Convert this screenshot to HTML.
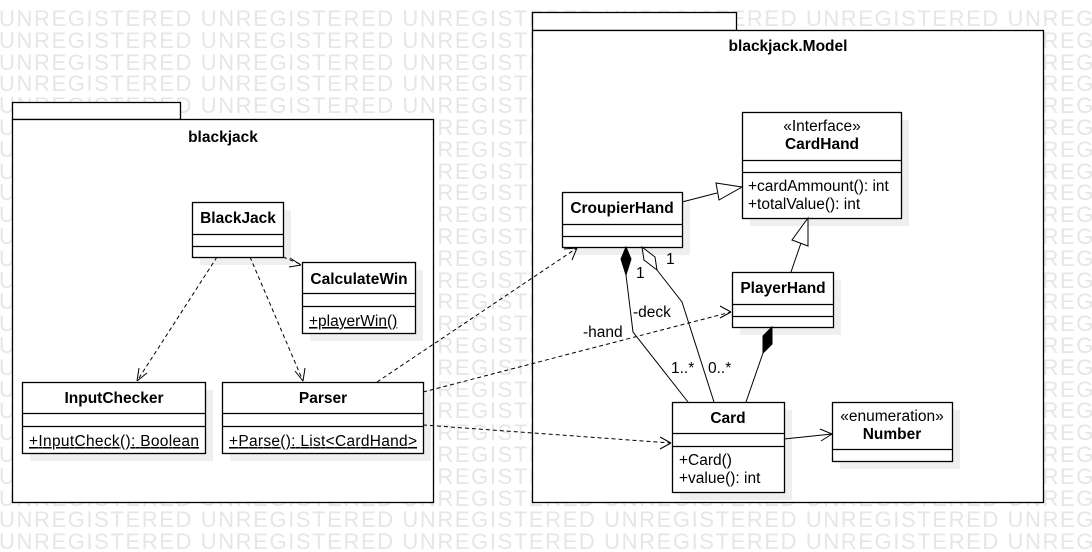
<!DOCTYPE html>
<html><head><meta charset="utf-8"><style>
html,body{margin:0;padding:0;width:1092px;height:552px;overflow:hidden;}
body{background:#fff;position:relative;font-family:"Liberation Sans",sans-serif;}
#wmwrap{position:absolute;left:0;top:0;width:1092px;height:552px;overflow:hidden;}
#wm{position:absolute;left:-1px;top:8px;color:#e6e6e6;font-size:22px;line-height:21.8px;white-space:nowrap;letter-spacing:1.6px}
svg{position:absolute;left:0;top:0}
</style></head><body>
<div id="wmwrap"><div id="wm">
UNREGISTERED UNREGISTERED UNREGISTERED UNREGISTERED UNREGISTERED UNREGISTERED<br>UNREGISTERED UNREGISTERED UNREGISTERED UNREGISTERED UNREGISTERED UNREGISTERED<br>UNREGISTERED UNREGISTERED UNREGISTERED UNREGISTERED UNREGISTERED UNREGISTERED<br>UNREGISTERED UNREGISTERED UNREGISTERED UNREGISTERED UNREGISTERED UNREGISTERED<br>UNREGISTERED UNREGISTERED UNREGISTERED UNREGISTERED UNREGISTERED UNREGISTERED<br>UNREGISTERED UNREGISTERED UNREGISTERED UNREGISTERED UNREGISTERED UNREGISTERED<br>UNREGISTERED UNREGISTERED UNREGISTERED UNREGISTERED UNREGISTERED UNREGISTERED<br>UNREGISTERED UNREGISTERED UNREGISTERED UNREGISTERED UNREGISTERED UNREGISTERED<br>UNREGISTERED UNREGISTERED UNREGISTERED UNREGISTERED UNREGISTERED UNREGISTERED<br>UNREGISTERED UNREGISTERED UNREGISTERED UNREGISTERED UNREGISTERED UNREGISTERED<br>UNREGISTERED UNREGISTERED UNREGISTERED UNREGISTERED UNREGISTERED UNREGISTERED<br>UNREGISTERED UNREGISTERED UNREGISTERED UNREGISTERED UNREGISTERED UNREGISTERED<br>UNREGISTERED UNREGISTERED UNREGISTERED UNREGISTERED UNREGISTERED UNREGISTERED<br>UNREGISTERED UNREGISTERED UNREGISTERED UNREGISTERED UNREGISTERED UNREGISTERED<br>UNREGISTERED UNREGISTERED UNREGISTERED UNREGISTERED UNREGISTERED UNREGISTERED<br>UNREGISTERED UNREGISTERED UNREGISTERED UNREGISTERED UNREGISTERED UNREGISTERED<br>UNREGISTERED UNREGISTERED UNREGISTERED UNREGISTERED UNREGISTERED UNREGISTERED<br>UNREGISTERED UNREGISTERED UNREGISTERED UNREGISTERED UNREGISTERED UNREGISTERED<br>UNREGISTERED UNREGISTERED UNREGISTERED UNREGISTERED UNREGISTERED UNREGISTERED<br>UNREGISTERED UNREGISTERED UNREGISTERED UNREGISTERED UNREGISTERED UNREGISTERED<br>UNREGISTERED UNREGISTERED UNREGISTERED UNREGISTERED UNREGISTERED UNREGISTERED<br>UNREGISTERED UNREGISTERED UNREGISTERED UNREGISTERED UNREGISTERED UNREGISTERED<br>UNREGISTERED UNREGISTERED UNREGISTERED UNREGISTERED UNREGISTERED UNREGISTERED<br>UNREGISTERED UNREGISTERED UNREGISTERED UNREGISTERED UNREGISTERED UNREGISTERED<br>UNREGISTERED UNREGISTERED UNREGISTERED UNREGISTERED UNREGISTERED UNREGISTERED
</div></div>
<svg width="1092" height="552" viewBox="0 0 1092 552" font-family="Liberation Sans, sans-serif" font-size="15.5" fill="none" stroke="#000">
<g stroke-width="1.3">
<rect x="12.5" y="102.5" width="168" height="17" fill="#fff"/>
<rect x="12.5" y="119.5" width="421" height="383" fill="#fff"/>
<rect x="532.5" y="12.5" width="204" height="18" fill="#fff"/>
<rect x="532.5" y="30.5" width="511" height="472" fill="#fff"/>
</g>
<g fill="#000" stroke="none" font-weight="bold" text-anchor="middle">
<text x="223" y="142">blackjack</text>
<text x="788" y="51">blackjack.Model</text>
</g>
<g fill="#efefef" stroke="none">
<rect x="200" y="210" width="91" height="55"/>
<rect x="310" y="270" width="113" height="71"/>
<rect x="30" y="390" width="183" height="71"/>
<rect x="230" y="390" width="201" height="71"/>
<rect x="750" y="120" width="159" height="106"/>
<rect x="570" y="200" width="120" height="55"/>
<rect x="740" y="280" width="101" height="55"/>
<rect x="680" y="410" width="112" height="90"/>
<rect x="840" y="410" width="120" height="59"/>
</g>
<g stroke-width="1.3" fill="#fff">
<rect x="192.5" y="202.5" width="91" height="55"/><path d="M192.5 234.5h91M192.5 246.5h91"/>
<rect x="302.5" y="262.5" width="113" height="71"/><path d="M302.5 293.5h113M302.5 306.5h113"/>
<rect x="22.5" y="382.5" width="183" height="71"/><path d="M22.5 413.5h183M22.5 426.5h183"/>
<rect x="222.5" y="382.5" width="201" height="71"/><path d="M222.5 413.5h201M222.5 426.5h201"/>
<rect x="742.5" y="112.5" width="159" height="106"/><path d="M742.5 160.5h159M742.5 172.5h159"/>
<rect x="562.5" y="192.5" width="120" height="55"/><path d="M562.5 224.5h120M562.5 236.5h120"/>
<rect x="732.5" y="272.5" width="101" height="55"/><path d="M732.5 304.5h101M732.5 316.5h101"/>
<rect x="672.5" y="402.5" width="112" height="90"/><path d="M672.5 433.5h112M672.5 446.5h112"/>
<rect x="832.5" y="402.5" width="120" height="59"/><path d="M832.5 449.5h120"/>
</g>
<g fill="#000" stroke="none">
<g font-weight="bold" text-anchor="middle">
<text x="238" y="223">BlackJack</text>
<text x="359" y="284">CalculateWin</text>
<text x="114" y="403">InputChecker</text>
<text x="323" y="403">Parser</text>
<text x="822" y="149">CardHand</text>
<text x="622" y="213">CroupierHand</text>
<text x="783" y="293">PlayerHand</text>
<text x="728" y="423">Card</text>
<text x="892" y="439">Number</text>
</g>
<g text-anchor="middle">
<text x="822" y="131">«Interface»</text>
<text x="892" y="421">«enumeration»</text>
</g>
<text x="309" y="326" text-decoration="underline">+playerWin()</text>
<text x="29" y="446" text-decoration="underline" textLength="170">+InputCheck(): Boolean</text>
<text x="229" y="446" text-decoration="underline" textLength="188">+Parse(): List&lt;CardHand&gt;</text>
<text x="748" y="191">+cardAmmount(): int</text>
<text x="748" y="209">+totalValue(): int</text>
<text x="679" y="465">+Card()</text>
<text x="679" y="483">+value(): int</text>
<text x="636" y="278">1</text>
<text x="666" y="264">1</text>
<text x="633" y="317">-deck</text>
<text x="583" y="337">-hand</text>
<text x="671" y="373">1..*</text>
<text x="708" y="373">0..*</text>
</g>
<g stroke-width="1" stroke-dasharray="4,3">
<path d="M217 257L137 381M250 257L303 381M283 257L300 264M377 382L577 248M423 392L731 312M423 425L671 443"/>
</g>
<g stroke-width="1">
<path d="M137 381l2-13M137 381l10-8"/>
<path d="M303 381l-8-10M303 381l2-13"/>
<path d="M301 265l-11-7M301 265l-12 2"/>
<path d="M577 248l-13 1M577 248l-5 12"/>
<path d="M731 312l-11-6M731 312l-11 6"/>
<path d="M671 443l-11-6M671 443l-11 6"/>
<path d="M682 202L717 193"/><path d="M742 187l-26-4 3 17z" fill="#fff"/>
<path d="M791 272L801 243"/><path d="M808 218l-16 22 16 6z" fill="#fff"/>
<path d="M626 275L633 332L688 402"/><path d="M626 247l-5 12 5 16 5-16z" fill="#000"/>
<path d="M657 270L682 302L714 402"/><path d="M642 247l2 13 13 10-2-13z" fill="#fff"/>
<path d="M763 353L746 402"/><path d="M772 327l-9 9 0 17 9-9z" fill="#000"/>
<path d="M784 439L832 434"/><path d="M832 434l-12-5M832 434l-11 7"/>
</g>
</svg>
</body></html>
